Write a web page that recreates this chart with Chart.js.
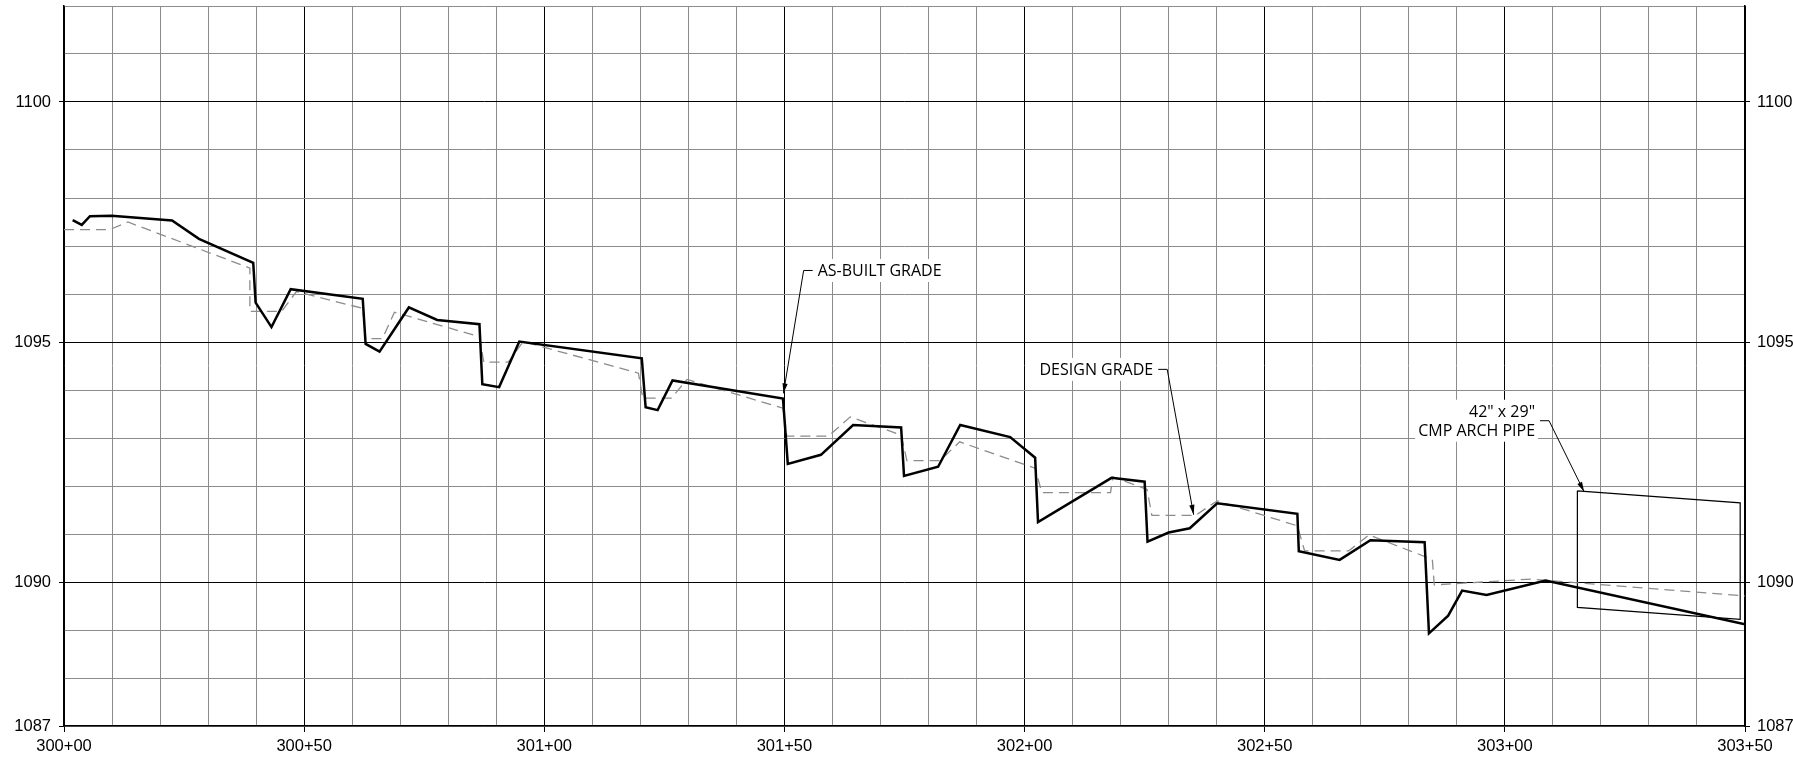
<!DOCTYPE html>
<html>
<head>
<meta charset="utf-8">
<script src="https://cdn.jsdelivr.net/npm/chart.js@4.4.1/dist/chart.umd.min.js"></script>
<style>
  body { margin: 0; background: #fff; }
  canvas { display: block; }
</style>
</head>
<body>
<canvas id="profile" width="1793" height="766"></canvas>
<script>
// stations in feet (300+00 = 30000)
var asBuiltSta = [30001.8, 30003.7, 30005.4, 30009.9, 30022.5, 30028.1, 30039.4, 30039.9, 30043.2, 30047.2,
    30062.2, 30062.8, 30065.7, 30071.8, 30077.7, 30086.5, 30087.1, 30090.6, 30094.8, 30120.3,
    30121.1, 30123.6, 30126.7, 30149.7, 30150.7, 30157.6, 30164.3, 30174.3, 30174.9, 30182.0,
    30186.6, 30197.0, 30202.2, 30202.8, 30218.1, 30225.0, 30225.6, 30230.0, 30234.4, 30240.1,
    30256.8, 30257.1, 30265.6, 30272.0, 30283.3, 30284.2, 30288.2, 30291.1, 30296.2, 30308.5, 30350.0];
var asBuiltElev = [1097.54, 1097.44, 1097.62, 1097.63, 1097.53, 1097.15, 1096.65, 1095.82, 1095.31, 1096.10,
    1095.90, 1094.96, 1094.80, 1095.72, 1095.46, 1095.37, 1094.12, 1094.06, 1095.01, 1094.66,
    1093.64, 1093.58, 1094.20, 1093.82, 1092.46, 1092.65, 1093.27, 1093.22, 1092.21, 1092.40,
    1093.27, 1093.02, 1092.59, 1091.25, 1092.17, 1092.09, 1090.84, 1091.03, 1091.12, 1091.64,
    1091.42, 1090.64, 1090.46, 1090.87, 1090.83, 1088.93, 1089.30, 1089.82, 1089.73, 1090.03, 1089.12];

var designSta = [30000.0, 30009.5, 30013.3, 30038.7, 30038.7, 30045.3, 30048.4, 30062.2, 30062.8, 30066.3,
    30068.8, 30086.5, 30087.4, 30092.5, 30095.6, 30119.6, 30120.5, 30126.5, 30129.7, 30149.7,
    30150.5, 30159.2, 30163.7, 30174.3, 30175.5, 30182.4, 30186.5, 30202.2, 30203.6, 30217.9,
    30218.4, 30225.5, 30226.5, 30235.6, 30240.1, 30256.8, 30258.3, 30267.5, 30271.7, 30284.9,
    30285.3, 30305.4, 30350.0];
var designElev = [1097.34, 1097.34, 1097.50, 1096.54, 1095.64, 1095.64, 1096.05, 1095.70, 1095.07, 1095.07,
    1095.62, 1095.11, 1094.58, 1094.58, 1095.01, 1094.35, 1093.83, 1093.83, 1094.22, 1093.62,
    1093.04, 1093.04, 1093.44, 1093.06, 1092.53, 1092.53, 1092.92, 1092.37, 1091.86, 1091.86,
    1092.19, 1091.93, 1091.39, 1091.39, 1091.69, 1091.17, 1090.65, 1090.65, 1090.98, 1090.47,
    1089.94, 1090.06, 1089.71];

// 42" x 29" arch pipe outline
var pipeSta = [30315.1, 30349.0, 30349.0, 30315.1, 30315.1];
var pipeElev = [1091.90, 1091.65, 1089.22, 1089.47, 1091.90];

var yLabelValues = [1087, 1090, 1095, 1100];

function toPoints(xs, ys) {
    var pts = [];
    for (var i = 0; i < xs.length; i++) {
        pts.push({ x: xs[i], y: ys[i] });
    }
    return pts;
}

function stationLabel(v) {
    var s = Math.round(v);
    return Math.floor(s / 100) + "+" + String(s % 100).padStart(2, "0");
}

var minorGrid = "#8c8c8c";
var tickFont = { family: "'Liberation Sans', Arial, sans-serif", size: 16.5 };

// leader callouts, tip and elbow in chart units
var callouts = [
    { lines: ["AS-BUILT GRADE"], tip: [30149.8, 1093.93], elbow: [30154.0, 1096.49], side: "right" },
    { lines: ["DESIGN GRADE"], tip: [30235.2, 1091.40], elbow: [30229.7, 1094.43], side: "left" },
    { lines: ['42" x 29"', "CMP ARCH PIPE"], tip: [30316.5, 1091.88], elbow: [30309.2, 1093.36], side: "left" }
];

var calloutPlugin = {
    id: "callouts",
    afterDatasetsDraw: function(chart) {
        var c = chart.ctx;
        var sx = chart.scales.x, sy = chart.scales.y;
        c.save();
        c.font = "16px 'Open Sans', sans-serif";
        c.textBaseline = "middle";
        callouts.forEach(function(co) {
            var tx = sx.getPixelForValue(co.tip[0]), ty = sy.getPixelForValue(co.tip[1]);
            var ex = sx.getPixelForValue(co.elbow[0]), ey = sy.getPixelForValue(co.elbow[1]);
            var dir = co.side === "right" ? 1 : -1;
            var hx = ex + dir * 9;
            var textX = ex + dir * 14;
            var lh = 19;
            var top = ey - lh * co.lines.length / 2;
            var w = 0;
            co.lines.forEach(function(l) { w = Math.max(w, c.measureText(l).width); });
            var boxX = dir === 1 ? textX - 3 : textX - w - 3;
            c.fillStyle = "#fff";
            c.fillRect(boxX, top - 2, w + 6, lh * co.lines.length + 4);
            c.fillStyle = "#000";
            c.textAlign = dir === 1 ? "left" : "right";
            co.lines.forEach(function(l, i) {
                c.fillText(l, textX, top + lh * i + lh / 2 + 1);
            });
            // leader
            c.strokeStyle = "#000";
            c.lineWidth = 1;
            c.beginPath();
            c.moveTo(hx, ey);
            c.lineTo(ex, ey);
            c.lineTo(tx, ty);
            c.stroke();
            // arrowhead
            var ang = Math.atan2(ty - ey, tx - ex);
            var len = 10, hw = 2.6;
            c.fillStyle = "#000";
            c.beginPath();
            c.moveTo(tx, ty);
            c.lineTo(tx - len * Math.cos(ang) + hw * Math.sin(ang), ty - len * Math.sin(ang) - hw * Math.cos(ang));
            c.lineTo(tx - len * Math.cos(ang) - hw * Math.sin(ang), ty - len * Math.sin(ang) + hw * Math.cos(ang));
            c.closePath();
            c.fill();
        });
        c.restore();
    }
};

function yLabel(v) {
    return yLabelValues.indexOf(v) >= 0 ? String(v) : "";
}

function yTickColor(ctx) {
    return ctx.tick && yLabelValues.indexOf(ctx.tick.value) >= 0 ? "#000" : "rgba(0,0,0,0)";
}

function zeroPad(s) {
    s.paddingTop = 0;
    s.paddingBottom = 0;
}

document.addEventListener("DOMContentLoaded", function() {

    var ctx = document.getElementById("profile").getContext("2d");

    var data = {
        datasets: [{
            label: "As-built grade",
            data: toPoints(asBuiltSta, asBuiltElev),
            borderColor: "#000",
            borderWidth: 2.5,
            pointRadius: 0,
            tension: 0,
            fill: false
        }, {
            label: "Design grade",
            data: toPoints(designSta, designElev),
            borderColor: "#8c8c8c",
            borderWidth: 1.3,
            borderDash: [10, 6],
            pointRadius: 0,
            tension: 0,
            fill: false
        }, {
            label: "Arch pipe",
            data: toPoints(pipeSta, pipeElev),
            borderColor: "#000",
            borderWidth: 1.2,
            pointRadius: 0,
            tension: 0,
            fill: false
        }]
    };

    var options = {
        responsive: false,
        animation: false,
        devicePixelRatio: 1,
        layout: { padding: { top: 6, left: 0, right: 0, bottom: 0 } },
        plugins: { legend: { display: false }, tooltip: { enabled: false } },
        scales: {
            x: {
                type: "linear",
                min: 30000,
                max: 30350,
                ticks: {
                    stepSize: 10,
                    autoSkip: false,
                    maxRotation: 0,
                    padding: 5,
                    color: "#000",
                    font: tickFont,
                    callback: function(v) { return Math.round(v) % 50 === 0 ? stationLabel(v) : ""; }
                },
                grid: {
                    color: function(c) { return c.tick && Math.round(c.tick.value) % 50 === 0 ? "#000" : minorGrid; },
                    lineWidth: 1,
                    tickLength: 6,
                    tickColor: function(c) { return c.tick && Math.round(c.tick.value) % 50 === 0 ? "#000" : "rgba(0,0,0,0)"; }
                },
                border: { color: "#000", width: 1.5 },
                afterFit: function(s) { s.height = 40; }
            },
            y: {
                type: "linear",
                position: "left",
                min: 1087,
                max: 1102,
                ticks: { stepSize: 1, autoSkip: false, padding: 8, color: "#000", font: tickFont, callback: yLabel },
                grid: {
                    color: function(c) { return c.tick && c.tick.value % 5 === 0 ? "#000" : minorGrid; },
                    lineWidth: 1,
                    tickLength: 5,
                    tickColor: yTickColor
                },
                border: { color: "#000", width: 1.5 },
                afterFit: function(s) { s.width = 64; zeroPad(s); }
            },
            y2: {
                type: "linear",
                position: "right",
                min: 1087,
                max: 1102,
                ticks: { stepSize: 1, autoSkip: false, padding: 7, color: "#000", font: tickFont, callback: yLabel },
                grid: { drawOnChartArea: false, tickLength: 5, tickColor: yTickColor },
                border: { color: "#000", width: 1.5 },
                afterFit: function(s) { s.width = 48; zeroPad(s); }
            }
        }
    };

    new Chart(ctx, {
        type: "line",
        data: data,
        options: options,
        plugins: [calloutPlugin]
    });
});
</script>
</body>
</html>
